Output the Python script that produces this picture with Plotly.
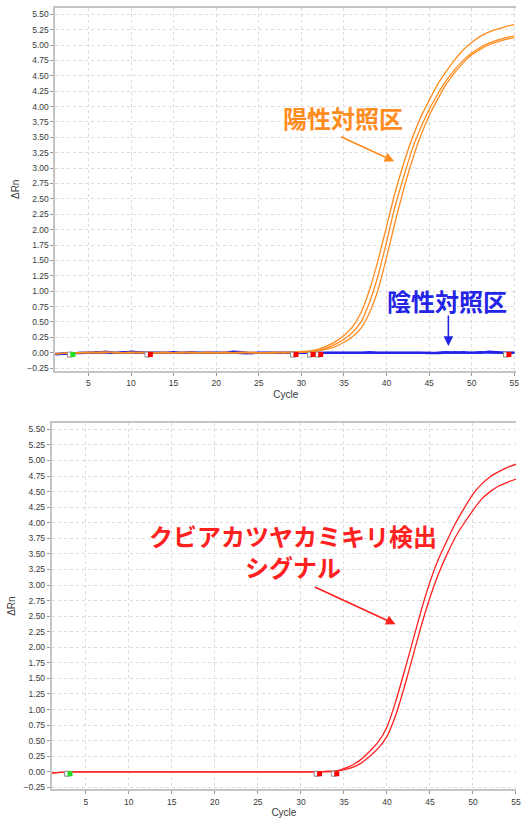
import plotly.graph_objects as go

# ---------------- data ----------------
cycles = list(range(1, 56))

# positive control (top panel), three replicates
pos_a = [-0.01, -0.01, 0.00, 0.00, 0.00, 0.01, 0.01, 0.00, 0.00, 0.01,
         0.00, 0.00, 0.00, 0.01, 0.00, 0.00, 0.00, 0.00, 0.01, 0.00,
         0.00, 0.00, 0.00, 0.01, 0.00, 0.00, 0.00, 0.01, 0.01, 0.02,
         0.03, 0.06, 0.11, 0.18, 0.28, 0.42, 0.65, 1.02, 1.50, 2.05,
         2.60, 3.07, 3.48, 3.82, 4.10, 4.36, 4.57, 4.76, 4.92, 5.04,
         5.14, 5.21, 5.26, 5.30, 5.33]
pos_b = [-0.02, -0.01, 0.00, 0.00, 0.01, 0.00, 0.00, 0.01, 0.00, 0.00,
         0.00, 0.01, 0.00, 0.00, 0.00, 0.00, 0.01, 0.00, 0.00, 0.00,
         0.00, 0.00, 0.01, 0.00, 0.00, 0.00, 0.00, 0.00, 0.01, 0.01,
         0.02, 0.04, 0.08, 0.14, 0.22, 0.33, 0.50, 0.82, 1.25, 1.80,
         2.38, 2.85, 3.30, 3.65, 3.95, 4.20, 4.42, 4.60, 4.75, 4.87,
         4.96, 5.03, 5.08, 5.12, 5.15]
pos_c = [-0.02, -0.01, -0.01, 0.00, 0.00, 0.00, 0.01, 0.00, 0.00, 0.00,
         0.01, 0.00, 0.00, 0.00, 0.00, 0.01, 0.00, 0.00, 0.00, 0.00,
         0.01, 0.00, 0.00, 0.00, 0.00, 0.00, 0.01, 0.00, 0.00, 0.01,
         0.01, 0.03, 0.06, 0.10, 0.17, 0.26, 0.40, 0.65, 1.02, 1.55,
         2.12, 2.65, 3.12, 3.52, 3.85, 4.12, 4.36, 4.55, 4.71, 4.84,
         4.93, 5.00, 5.05, 5.09, 5.12]

# negative control (top panel), three replicates
neg_a = [-0.03, -0.02, -0.01, -0.01, 0.00, 0.00, 0.02, 0.00, 0.00, 0.02,
         0.01, 0.00, 0.00, 0.00, 0.01, 0.00, 0.00, 0.00, 0.00, 0.00,
         0.00, 0.02, 0.01, -0.01, 0.00, 0.00, 0.00, 0.00, 0.00, 0.00,
         0.00, -0.01, 0.00, 0.00, 0.00, 0.00, 0.00, 0.01, 0.00, 0.00,
         0.00, 0.00, 0.00, 0.00, -0.01, 0.00, 0.01, 0.00, 0.00, 0.00,
         0.00, 0.02, 0.01, 0.00, 0.00]
neg_b = [-0.02, -0.02, -0.01, 0.00, 0.00, 0.01, 0.01, 0.00, 0.01, 0.01,
         0.00, 0.00, 0.00, 0.00, 0.00, 0.00, 0.01, 0.00, 0.00, 0.00,
         0.00, 0.00, -0.01, -0.01, 0.00, 0.00, 0.00, 0.00, 0.00, 0.00,
         0.00, 0.00, 0.00, 0.00, 0.00, 0.00, 0.00, 0.00, 0.00, 0.00,
         0.00, 0.00, 0.00, 0.00, 0.00, -0.01, 0.00, 0.00, 0.01, 0.00,
         0.00, 0.01, 0.00, 0.00, 0.00]
neg_c = [-0.02, -0.01, -0.01, 0.00, 0.00, 0.00, 0.00, 0.00, 0.00, 0.00,
         0.00, 0.00, 0.00, 0.00, 0.00, 0.00, 0.00, 0.00, 0.00, 0.00,
         0.00, 0.01, 0.00, 0.00, 0.00, 0.00, 0.00, 0.00, 0.00, 0.00,
         0.00, 0.00, 0.00, 0.00, 0.00, 0.00, 0.00, 0.00, 0.00, 0.00,
         0.00, 0.00, 0.00, 0.00, 0.00, 0.00, 0.00, 0.01, 0.00, 0.00,
         0.01, 0.00, 0.00, 0.00, 0.00]

# beetle detection signal (bottom panel), two wells
det_a = [-0.02, -0.01, 0.00, 0.00, 0.00, 0.00, 0.00, 0.00, 0.00, 0.00,
         0.00, 0.00, 0.00, 0.00, 0.00, 0.00, 0.00, 0.00, 0.00, 0.00,
         0.00, 0.00, 0.00, 0.00, 0.00, 0.00, 0.00, 0.00, 0.00, 0.00,
         0.00, 0.00, 0.01, 0.01, 0.05, 0.11, 0.20, 0.33, 0.48, 0.72,
         1.12, 1.60, 2.10, 2.60, 3.05, 3.42, 3.72, 4.00, 4.24, 4.46,
         4.62, 4.74, 4.82, 4.89, 4.94]
det_b = [-0.02, -0.01, 0.00, 0.00, 0.00, 0.00, 0.00, 0.00, 0.00, 0.00,
         0.00, 0.00, 0.00, 0.00, 0.00, 0.00, 0.00, 0.00, 0.00, 0.00,
         0.00, 0.00, 0.00, 0.00, 0.00, 0.00, 0.00, 0.00, 0.00, 0.00,
         0.00, 0.00, 0.00, 0.01, 0.03, 0.07, 0.14, 0.25, 0.38, 0.57,
         0.90, 1.35, 1.85, 2.35, 2.80, 3.18, 3.50, 3.78, 4.00, 4.20,
         4.38, 4.50, 4.59, 4.65, 4.70]

# baseline start / end markers (cycle positions)
top_start_cycles = [3.0]
top_end_cycles = [12.1, 29.2, 31.2, 32.1, 54.2]
bot_start_cycles = [3.0]
bot_end_cycles = [32.0, 34.0]
marker_level = -0.03

# ---------------- colours ----------------
ORANGE = "#FF8C1E"
BLUE = "#2424E6"
RED = "#FF2020"

fig = go.Figure()

def add_line(y, color, width, xa, ya):
    fig.add_trace(go.Scatter(x=cycles, y=y, mode="lines",
                             line=dict(color=color, width=width, shape="spline", smoothing=0.6),
                             xaxis=xa, yaxis=ya, showlegend=False, hoverinfo="skip"))

def add_markers(xs, fill, xa, ya, offset):
    # white open square sits just left of the coloured one
    fig.add_trace(go.Scatter(x=[c - offset for c in xs], y=[marker_level] * len(xs), mode="markers",
                             marker=dict(symbol="square", size=5, color="white",
                                         line=dict(color="#8a8a8a", width=1)),
                             xaxis=xa, yaxis=ya, showlegend=False, hoverinfo="skip"))
    fig.add_trace(go.Scatter(x=[c + offset for c in xs], y=[marker_level] * len(xs), mode="markers",
                             marker=dict(symbol="square", size=5, color=fill, line=dict(width=0)),
                             xaxis=xa, yaxis=ya, showlegend=False, hoverinfo="skip"))

# top panel
for s in (neg_a, neg_b, neg_c):
    add_line(s, BLUE, 2, "x", "y")
for s in (pos_a, pos_b, pos_c):
    add_line(s, ORANGE, 1.3, "x", "y")
add_markers(top_start_cycles, "#22DD22", "x", "y", 0.17)
add_markers(top_end_cycles, "#FF0000", "x", "y", 0.17)

# bottom panel
for s in (det_a, det_b):
    add_line(s, RED, 1.3, "x2", "y2")
add_markers(bot_start_cycles, "#22DD22", "x2", "y2", 0.17)
add_markers(bot_end_cycles, "#FF0000", "x2", "y2", 0.17)

W, H = 521, 818
tick_font = dict(family="Liberation Sans, Arial, sans-serif", size=8.5, color="#3a3a3a")
title_font = dict(family="Liberation Sans, Arial, sans-serif", size=10, color="#3a3a3a")

def xaxis(domain_left, rng, anchor):
    return dict(domain=[domain_left / W, 1], range=rng, anchor=anchor,
                tick0=5, dtick=5, ticks="outside", ticklen=3, tickcolor="#999",
                tickfont=tick_font, ticklabeloverflow="allow",
                showline=True, linecolor="#c4c4c4", linewidth=2,
                mirror=True, showgrid=True, gridcolor="#dcdcdc", griddash="dot", gridwidth=1,
                zeroline=False, title=dict(text="Cycle", font=title_font, standoff=4))

def yaxis(top_px, bottom_px, rng, anchor):
    return dict(domain=[1 - bottom_px / H, 1 - top_px / H], range=rng, anchor=anchor,
                tick0=0, dtick=0.25, tickformat=".2f", ticks="outside", ticklen=3, tickcolor="#999",
                tickfont=tick_font, showline=True, linecolor="#c4c4c4", linewidth=2,
                mirror=False, showgrid=True, gridcolor="#dcdcdc", griddash="dot", gridwidth=1,
                zeroline=False, title=dict(text="ΔRn", font=title_font, standoff=6))

cjk = "Noto Sans CJK JP"
annotations = [
    dict(x=34.85, y=3.82, xref="x", yref="y", text="<b>陽性対照区</b>", showarrow=False,
         font=dict(family=cjk, size=24, color=ORANGE)),
    dict(x=40.9, y=3.11, ax=34.47, ay=3.52, xref="x", yref="y", axref="x", ayref="y",
         text="", showarrow=True, arrowhead=2, arrowsize=1.2, arrowwidth=1.6, arrowcolor=ORANGE),
    dict(x=47.14, y=0.85, xref="x", yref="y", text="<b>陰性対照区</b>", showarrow=False,
         font=dict(family=cjk, size=24, color=BLUE)),
    dict(x=47.26, y=0.11, ax=47.26, ay=0.63, xref="x", yref="y", axref="x", ayref="y",
         text="", showarrow=True, arrowhead=2, arrowsize=1.2, arrowwidth=1.6, arrowcolor=BLUE),
    dict(x=29.06, y=3.545, xref="x2", yref="y2",
         text="<b>クビアカツヤカミキリ検出<br>シグナル</b>", showarrow=False, align="center",
         font=dict(family=cjk, size=24, color=RED)),
    dict(x=41.0, y=2.37, ax=31.44, ay=2.98, xref="x2", yref="y2", axref="x2", ayref="y2",
         text="", showarrow=True, arrowhead=2, arrowsize=1.2, arrowwidth=1.6, arrowcolor=RED),
]

fig.update_layout(
    width=W, height=H, margin=dict(l=0, r=0, t=0, b=0),
    paper_bgcolor="white", plot_bgcolor="white",
    xaxis=xaxis(56, [1.13, 55.2], "y"),
    yaxis=yaxis(8, 372, [-0.291, 5.602], "x"),
    xaxis2=xaxis(52.3, [1.05, 55.0], "y2"),
    yaxis2=yaxis(424.3, 792.3, [-0.282, 5.606], "x2"),
    annotations=annotations,
)

fig.write_html("out.html")
